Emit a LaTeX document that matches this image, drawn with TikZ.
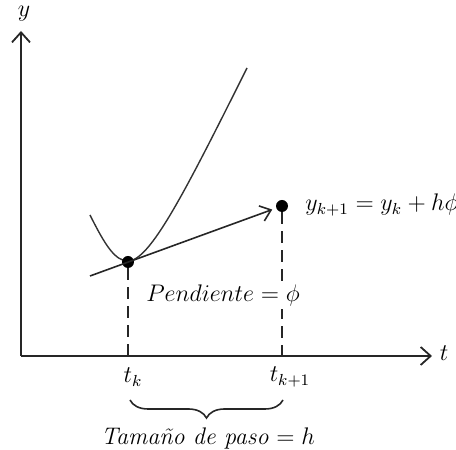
\documentclass[tikz,border=0pt]{standalone}
\usetikzlibrary{arrows.meta, decorations.pathreplacing}
\tikzset{
  %% ── Trazos ───────────────────────────────────────────────────────────
  %% Ejes y tangente llevan la misma punta abierta; la curva es mas fina.
  eje/.style      = {line width=1pt, draw=black!85,
                     -{Straight Barb[length=5pt, width=9pt, line width=0.9pt]}},
  tangente/.style = {line width=0.8pt, draw=black!85, shorten >=2pt,
                     -{Straight Barb[length=5pt, width=8pt, line width=0.8pt]}},
  curva/.style    = {line width=0.7pt, draw=black!80},
  guia/.style     = {line width=0.8pt, draw=black!85,
                     dash pattern=on 6pt off 3.5pt},
  llave/.style    = {line width=0.8pt, draw=black!85,
                     decorate, decoration={brace, mirror, amplitude=9pt}},
  %%
  %% ── Puntos y textos ──────────────────────────────────────────────────
  punto/.style    = {circle, fill=black, inner sep=0pt, minimum size=6pt},
  etiqueta/.style = {font=\fontsize{12}{14}\selectfont, inner sep=1pt},
}

\begin{document}
\begin{tikzpicture}[x=0.5pt, y=0.5pt]
\useasboundingbox (0,0) rectangle (456,450);

\coordinate (O)    at (21, 94);
\coordinate (ymax) at (21, 419);
\coordinate (tmax) at (432, 94);
\coordinate (ak)   at (128, 94);
\coordinate (ak1)  at (282, 94);
\coordinate (ini)  at (90, 174);
\coordinate (lk)   at (130, 50);
\coordinate (lk1)  at (283, 50);

\draw[curva] (90,235) .. controls (105,205) and (115,189) .. (128,189)
                      .. controls (150,189) and (185,258) .. (247,382);

\node[punto] (pk)  at (128, 188) {};
\node[punto] (pk1) at (282, 244) {};

\draw[eje] (O) -- (ymax);
\draw[eje] (O) -- (tmax);

\draw[tangente] (ini) -- (pk1);
\draw[guia] (pk) -- (ak);
\draw[guia] (pk1) -- (ak1);
\draw[llave] (lk) -- (lk1);

\node[etiqueta] (ly)   at (24, 436)  {$y$};
\node[etiqueta] (lt)   at (444, 97)  {$t$};
\node[etiqueta] (ltk)  at (133, 73)  {$t_k$};
\node[etiqueta] (ltk1) at (290, 73)  {$t_{k+1}$};
\node[etiqueta, anchor=west] (lec) at (303, 245) {$y_{k+1} = y_k + h\phi$};
\node[etiqueta, fill=white] (pend) at (223, 154) {$Pendiente = \phi$};
\node[etiqueta] (paso) at (208, 12)  {\textit{Tamaño de paso} $= h$};

\end{tikzpicture}
\end{document}
